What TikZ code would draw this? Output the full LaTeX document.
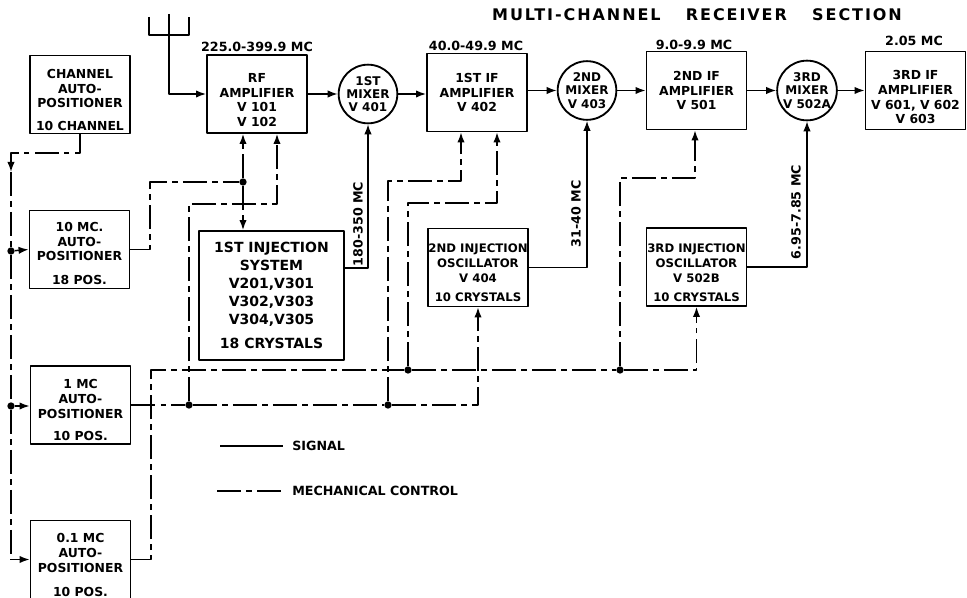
\documentclass[tikz,border=0pt]{standalone}
\usepackage{fontspec}
\usetikzlibrary{arrows.meta}
\setmainfont{DejaVu Sans}
\tikzset{
    feed/.tip={Latex[length=7.5pt,width=5.5pt]},
    unitbox/.style={draw,line width=1.4pt,align=center,inner sep=0pt,minimum width=75pt,minimum height=58.5pt,
        font=\bfseries\fontsize{9.3}{11}\selectfont},
    oscbox/.style={unitbox,font=\bfseries\fontsize{8.8}{11.25}\selectfont},
    mixerbox/.style={draw,circle,line width=1.4pt,align=center,inner sep=0pt,minimum size=44pt,
        font=\bfseries\fontsize{9}{10}\selectfont},
    bandlabel/.style={inner sep=0pt,font=\bfseries\fontsize{9.5}{11}\selectfont},
    junction/.style={circle,fill=black,inner sep=0pt,minimum size=5.5pt},
    signal/.style={line width=1.1pt},
    mech/.style={line width=1.1pt,dash pattern=on 18pt off 4pt on 4pt off 4pt}
}

\begin{document}
\begin{tikzpicture}[x=0.75pt,y=-0.75pt,line join=round]
    \useasboundingbox (0,0) rectangle (967,598);

    % blocks
    \node[unitbox] (chan) at (80,94.5) {\rule{0pt}{15pt}CHANNEL\\AUTO-\\POSITIONER\\[6pt]10 CHANNEL};
    \node[unitbox] (mcten) at (79.5,249.5) {\rule{0pt}{13pt}10 MC.\\AUTO-\\POSITIONER\\[7pt]18 POS.};
    \node[unitbox] (mcone) at (80.5,405) {\rule{0pt}{15pt}1 MC\\AUTO-\\POSITIONER\\[6pt]10 POS.};
    \node[unitbox] (mctenth) at (80.5,559.5) {\rule{0pt}{15pt}0.1 MC\\AUTO-\\POSITIONER\\[7pt]10 POS.};
    \node[unitbox] (rfamp) at (257,94) {\rule{0pt}{16pt}RF\\AMPLIFIER\\V 101\\V 102};
    \node[unitbox] (ifone) at (477,92.5) {1ST IF\\AMPLIFIER\\V 402};
    \node[unitbox] (iftwo) at (696.5,90.5) {2ND IF\\AMPLIFIER\\V 501};
    \node[unitbox] (ifthree) at (915.5,90.5) {\rule{0pt}{17pt}3RD IF\\AMPLIFIER\\V 601, V 602\\V 603};
    \node[unitbox,minimum width=108.75pt,minimum height=96.75pt,font=\bfseries\fontsize{10.5}{13.5}\selectfont]
        (injone) at (271.5,295.5) {1ST INJECTION\\SYSTEM\\V201,V301\\V302,V303\\V304,V305\\[5pt]18 CRYSTALS};
    \node[oscbox] (osctwo) at (478,267.5) {\rule{0pt}{15pt}2ND INJECTION\\OSCILLATOR\\V 404\\[3pt]10 CRYSTALS};
    \node[oscbox] (oscthree) at (696.5,267) {\rule{0pt}{15pt}3RD INJECTION\\OSCILLATOR\\V 502B\\[3pt]10 CRYSTALS};

    \node[mixerbox] (mixone) at (368,94) {1ST\\MIXER\\V 401};
    \node[mixerbox] (mixtwo) at (587,90.5) {2ND\\MIXER\\V 403};
    \node[mixerbox] (mixthree) at (807,90.5) {3RD\\MIXER\\V 502A};

    % labels
    \node[font=\bfseries\fontsize{12}{14}\selectfont\addfontfeature{LetterSpace=12}] (title) at (697,15)
        {MULTI-CHANNEL\hspace{19pt}RECEIVER\hspace{19pt}SECTION};
    \node[bandlabel] (bandrf) at (257,47) {225.0-399.9 MC};
    \node[bandlabel] (bandifone) at (476,46) {40.0-49.9 MC};
    \node[bandlabel] (bandiftwo) at (694,45) {9.0-9.9 MC};
    \node[bandlabel] (bandifthree) at (914,41) {2.05 MC};
    \node[bandlabel,rotate=90] (bandinjone) at (358,224) {180-350 MC};
    \node[bandlabel,rotate=90] (bandosctwo) at (576,214) {31-40 MC};
    \node[bandlabel,rotate=90] (bandoscthree) at (796,212) {6.95-7.85 MC};

    % legend
    \node[bandlabel,anchor=west] (legsignal) at (292,446) {SIGNAL};
    \node[bandlabel,anchor=west] (legmech) at (292,491) {MECHANICAL CONTROL};
    \coordinate (legsignalend) at (220,446);
    \coordinate (legmechend) at (217,491);
    \draw[signal,line width=0.8pt,shorten >=7pt] (legsignalend) -- (legsignal.west);
    \draw[mech,line width=0.8pt,shorten >=5pt] (legmechend) -- (legmech.west);

    % junctions
    \node[junction] (busten) at (11,251) {};
    \node[junction] (busone) at (11,406) {};
    \node[junction] (tapten) at (243,182) {};
    \node[junction] (taprf) at (189,405) {};
    \node[junction] (tapif) at (388,405) {};
    \node[junction] (tapifb) at (408,370) {};
    \node[junction] (tapiftwo) at (620,370) {};

    \coordinate (anttop) at (169,14);
    \coordinate (antbase) at (169,35);
    \coordinate (antleft) at (149,17);
    \coordinate (antright) at (189,17);
    \coordinate (injtap) at (344,268);
    \coordinate (chanbend) at (11,153);
    \coordinate (bustop) at (11,172);
    \coordinate (busend) at (11,559.5);
    \coordinate (tenbend) at (150,182);
    \coordinate (rfbend) at (277,204);
    \coordinate (ifbend) at (461,181);
    \coordinate (ifbendb) at (497,203);
    \coordinate (iftwobend) at (695,178);
    \coordinate (tenthbend) at (151,370);

    % signal path
    \draw[signal] (antleft) |- (antbase) -| (antright);
    \draw[signal] (anttop) -- (antbase);
    \draw[signal,-feed] (antbase) |- (rfamp.west);
    \draw[signal,-feed] (rfamp.east) -- (mixone.west);
    \draw[signal,-feed] (mixone.east) -- (ifone.west |- mixone.east);
    \draw[signal,-feed] (ifone.east |- mixtwo.west) -- (mixtwo.west);
    \draw[signal,-feed] (mixtwo.east) -- (iftwo.west);
    \draw[signal,-feed] (iftwo.east) -- (mixthree.west);
    \draw[signal,-feed] (mixthree.east) -- (ifthree.west);
    \draw[signal,-feed] (injtap) -| (mixone.south);
    \draw[signal,-feed] (osctwo.east) -| (mixtwo.south);
    \draw[signal,-feed] (oscthree.east) -| (mixthree.south);

    % mechanical control
    \draw[mech,-feed] (chan.south) |- (chanbend) -- (bustop);
    \draw[mech] (bustop) -- (busten);
    \draw[mech] (busten) -- (busone);
    \draw[mech] (busone) -- (busend);
    \draw[signal,-feed] (busend) -- (mctenth.west);
    \draw[signal,-feed] (busten) -- (mcten.west);
    \draw[signal,-feed] (busone) -- (mcone.west |- busone);

    \draw[mech] (mcten.east) -| (tenbend) -- (tapten);
    \draw[mech,-feed] (tapten) -- (rfamp.south -| tapten);
    \draw[mech,-feed] (tapten) -- (injone.north -| tapten);

    \draw[mech] (mcone.east) -- (taprf);
    \draw[mech] (taprf) -- (tapif);
    \draw[mech,-feed] (taprf) |- (rfbend) -- (rfamp.south -| rfbend);
    \draw[mech,-feed] (tapif) |- (ifbend) -- (ifone.south -| ifbend);
    \draw[mech,-feed] (tapif) -| (osctwo.south);

    \draw[mech] (mctenth.east) -| (tenthbend) -- (tapifb);
    \draw[mech] (tapifb) -- (tapiftwo);
    \draw[mech,-feed] (tapifb) |- (ifbendb) -- (ifone.south -| ifbendb);
    \draw[mech,-feed] (tapiftwo) |- (iftwobend) -- (iftwo.south -| iftwobend);
    \draw[mech,-feed] (tapiftwo) -| (oscthree.south);
\end{tikzpicture}
\end{document}
